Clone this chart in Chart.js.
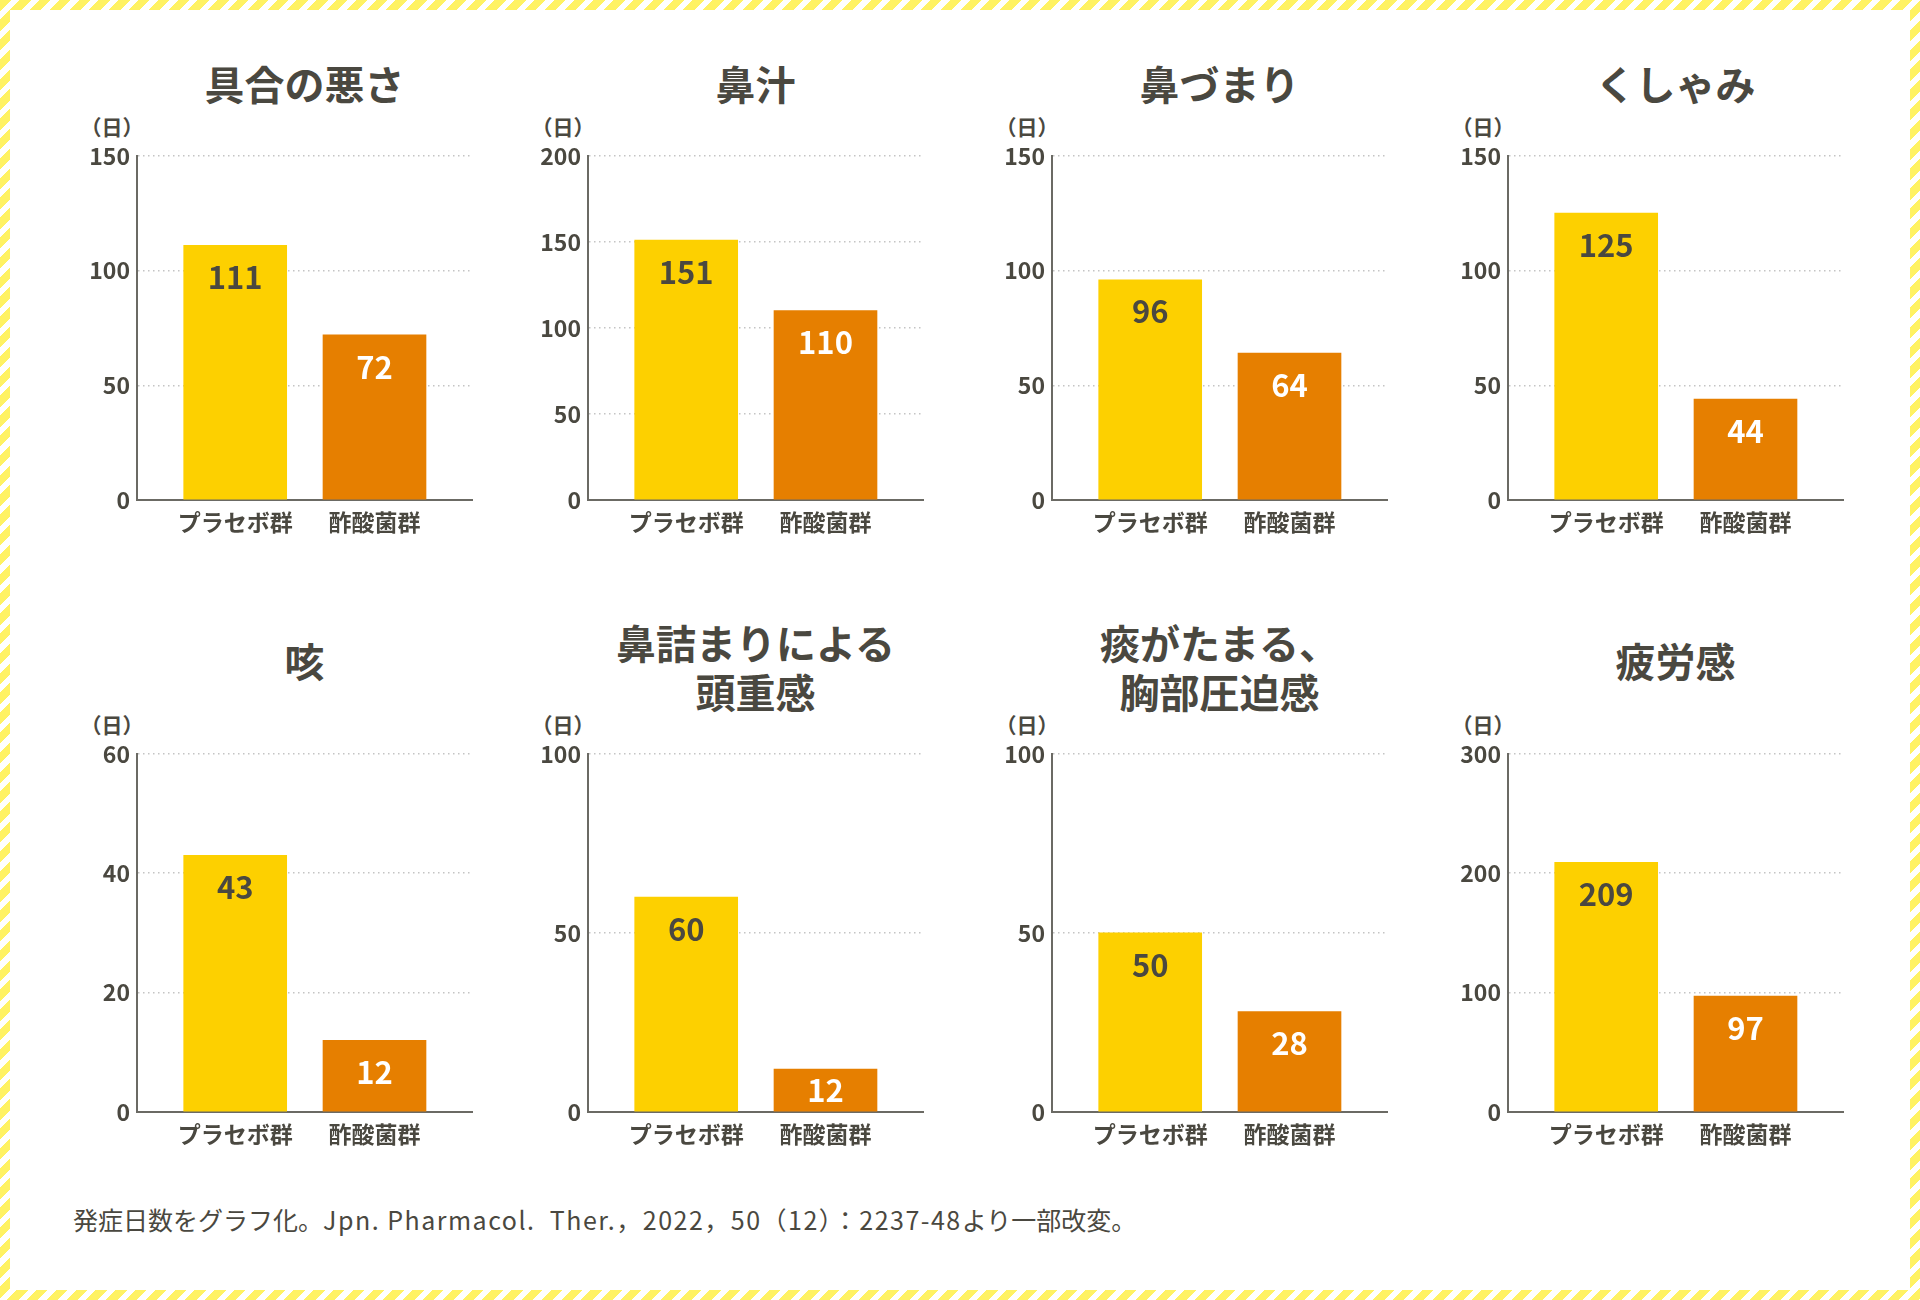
<!DOCTYPE html>
<html lang="ja">
<head>
<meta charset="utf-8">
<title>発症日数</title>
<script src="https://cdn.jsdelivr.net/npm/chart.js@4.4.1/dist/chart.umd.min.js"></script>
<style>
  html, body { margin: 0; padding: 0; }
  body {
    width: 1920px; height: 1300px; position: relative; overflow: hidden;
    font-family: "Noto Sans CJK JP", sans-serif; color: #4a4840;
    background: repeating-linear-gradient(135deg, #fff263 0 8px, #ffffff 8px 14px);
  }
  #page { position: absolute; left: 10px; top: 10px; right: 10px; bottom: 10px; background: #fff; }
  .panel-title { position: absolute; width: 420px; text-align: center; font-size: 40px; font-weight: 700; line-height: 49px; }
  .unit { position: absolute; width: 70px; text-align: center; font-size: 21px; font-weight: 700; line-height: 24px; }
  canvas { position: absolute; }
  #note { position: absolute; left: 73px; top: 1204px; font-size: 25px; line-height: 30px; white-space: nowrap; }
  #note .latin { letter-spacing: 1.5px; }
</style>
</head>
<body>
<div id="page"></div>
<div id="note">発症日数をグラフ化。<span class="latin">Jpn. Pharmacol.&nbsp; Ther.，2022，50（12）：2237-48</span>より一部改変。</div>

<script>
// Panel titles (arrays = two-line titles)
const titles = ['具合の悪さ', '鼻汁', '鼻づまり', 'くしゃみ', '咳', ['鼻詰まりによる', '頭重感'], ['痰がたまる、', '胸部圧迫感'], '疲労感'];
const groups = ['プラセボ群', '酢酸菌群'];

// Symptom days per group
const placebo = [111, 151, 96, 125, 43, 60, 50, 209];
const acetic = [72, 110, 64, 44, 12, 12, 28, 97];

// y axis range per panel
const yMax = [150, 200, 150, 150, 60, 100, 100, 300];
const yStep = [50, 50, 50, 50, 20, 50, 50, 100];

const textColor = '#4a4840';
const barColors = ['#fdd000', '#e67f00'];

// layout of the 4x2 grid (pixel positions of the plot areas)
const axisX = [137, 588, 1052, 1508];
const plotW = 335;
const plotTop = [155, 753];
const plotBottom = [500, 1112];
const AXIS_W = 70, PAD_TOP = 20, X_AXIS_H = 45, PAD_RIGHT = 10;

Chart.defaults.font.family = '"Noto Sans CJK JP", sans-serif';
Chart.defaults.color = textColor;

// Draw the value inside each bar, near its top (centred if the bar is short)
const valueLabels = {
  id: 'valueLabels',
  afterDatasetsDraw(chart) {
    const { ctx } = chart;
    const meta = chart.getDatasetMeta(0);
    const data = chart.data.datasets[0].data;
    ctx.save();
    ctx.font = 'bold 31px "Noto Sans CJK JP", sans-serif';
    ctx.textAlign = 'center';
    ctx.textBaseline = 'middle';
    meta.data.forEach((bar, k) => {
      ctx.fillStyle = k === 0 ? textColor : '#ffffff';
      const y = Math.min(bar.y + 32, (bar.y + bar.base) / 2);
      ctx.fillText(String(data[k].y), bar.x, y);
    });
    ctx.restore();
  }
};

function makePanel(i) {
  const col = i % 4;
  const row = Math.floor(i / 4);
  const plotH = plotBottom[row] - plotTop[row];

  // title
  const t = document.createElement('div');
  t.className = 'panel-title';
  const lines = Array.isArray(titles[i]) ? titles[i] : [titles[i]];
  t.innerHTML = lines.join('<br>');
  const centerX = axisX[col] + plotW / 2;
  t.style.left = (centerX - 210) + 'px';
  if (row === 0) {
    t.style.top = '59px';
  } else {
    t.style.top = (lines.length === 2 ? 618 : 636) + 'px';
  }
  document.body.appendChild(t);

  // unit label
  const u = document.createElement('div');
  u.className = 'unit';
  u.textContent = '（日）';
  u.style.left = (axisX[col] - 25 - 35) + 'px';
  u.style.top = (plotTop[row] - 41) + 'px';
  document.body.appendChild(u);

  // canvas
  const canvas = document.createElement('canvas');
  const w = AXIS_W + plotW + PAD_RIGHT;
  const h = PAD_TOP + plotH + X_AXIS_H;
  canvas.width = w;
  canvas.height = h;
  canvas.style.width = w + 'px';
  canvas.style.height = h + 'px';
  canvas.style.left = (axisX[col] - AXIS_W) + 'px';
  canvas.style.top = (plotTop[row] - PAD_TOP) + 'px';
  document.body.appendChild(canvas);

  const values = [placebo[i], acetic[i]];

  new Chart(canvas.getContext('2d'), {
    type: 'bar',
    data: {
      datasets: [{
        data: groups.map((g, k) => ({ x: k, y: values[k] })),
        backgroundColor: barColors,
        borderWidth: 0,
        barThickness: 103
      }]
    },
    options: {
      responsive: false,
      animation: false,
      layout: { padding: { top: PAD_TOP, right: PAD_RIGHT, left: 0, bottom: 0 } },
      plugins: { legend: { display: false }, tooltip: { enabled: false } },
      scales: {
        x: {
          type: 'linear',
          offset: false,
          bounds: 'data',
          min: -0.705,
          max: 1.7,
          afterBuildTicks: s => { s.ticks = groups.map((g, k) => ({ value: k })); },
          afterFit: s => { s.height = X_AXIS_H; },
          grid: { display: false, drawTicks: false, offset: false },
          border: { color: '#6b6a64', width: 2 },
          ticks: {
            callback: v => groups[v],
            padding: 8,
            autoSkip: false,
            maxRotation: 0,
            color: textColor,
            font: { size: 23, weight: 'bold' }
          }
        },
        y: {
          min: 0,
          max: yMax[i],
          afterFit: s => { s.width = AXIS_W; },
          grid: {
            drawTicks: false,
            lineWidth: 1.5,
            color: c => (c.tick && c.tick.value === 0) ? 'rgba(0,0,0,0)' : '#c4c4c4'
          },
          border: { color: '#6b6a64', width: 2, dash: [1.5, 3.5] },
          ticks: {
            stepSize: yStep[i],
            padding: 7,
            color: textColor,
            font: { size: 23, weight: 'bold' }
          }
        }
      }
    },
    plugins: [valueLabels]
  });
}

document.addEventListener('DOMContentLoaded', () => {
  titles.forEach((t, i) => makePanel(i));
});
</script>
</body>
</html>
